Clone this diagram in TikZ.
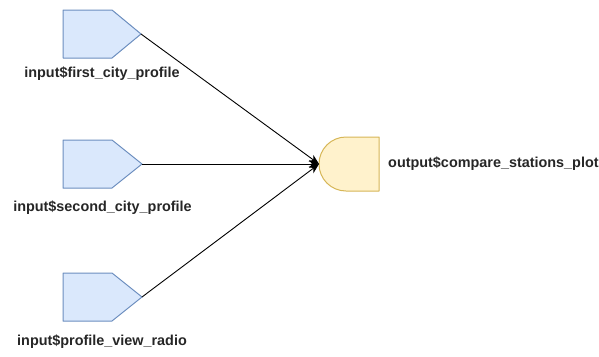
\documentclass[tikz,border=0pt]{standalone}
\usepackage{fontspec}
\setmainfont{Liberation Sans}
\usetikzlibrary{arrows.meta}
\definecolor{inFill}{HTML}{DAE8FC}
\definecolor{inLine}{HTML}{6C8EBF}
\definecolor{outFill}{HTML}{FFF2CC}
\definecolor{outLine}{HTML}{D6B656}
\tikzset{
  inshape/.style={fill=inFill, draw=inLine, line width=1pt, line join=round},
  outshape/.style={fill=outFill, draw=outLine, line width=1pt, line join=round},
  lbl/.style={font=\bfseries\fontsize{14.4}{17}\selectfont, text=black!85, inner sep=0pt},
  flow/.style={draw=black, line width=0.9pt, -{Stealth[length=10pt,width=8pt,inset=3pt]}},
}
\begin{document}
\begin{tikzpicture}[x=1pt,y=-1pt]
  \useasboundingbox (0,0) rectangle (599,356);

  % input pentagons (pointing right)
  \draw[inshape] (63,10) -- (112,10) -- (141,34) -- (112,58) -- (63,58) -- cycle;
  \coordinate (in1) at (141,34);
  \draw[inshape] (63,140) -- (112,140) -- (142,164) -- (112,188) -- (63,188) -- cycle;
  \coordinate (in2) at (142,164);
  \draw[inshape] (63,273) -- (112,273) -- (142,297) -- (112,321) -- (63,321) -- cycle;
  \coordinate (in3) at (142,297);

  % output delay shape (rounded on the left)
  \draw[outshape] (379,137) -- (346,137) arc[start angle=90, end angle=270, x radius=27, y radius=-27] -- (379,191) -- cycle;
  \coordinate (out) at (319,164);

  % labels
  \node[lbl] (l1) at (102,74) {input\$first\_city\_profile};
  \node[lbl] (l2) at (102.5,208) {input\$second\_city\_profile};
  \node[lbl, anchor=west] (l3) at (17,342) {input\$profile\_view\_radio};
  \node[lbl, anchor=west] (l4) at (388,164) {output\$compare\_stations\_plot};

  % connectors
  \draw[flow] (in1) -- (out);
  \draw[flow] (in2) -- (out);
  \draw[flow] (in3) -- (out);
\end{tikzpicture}
\end{document}
